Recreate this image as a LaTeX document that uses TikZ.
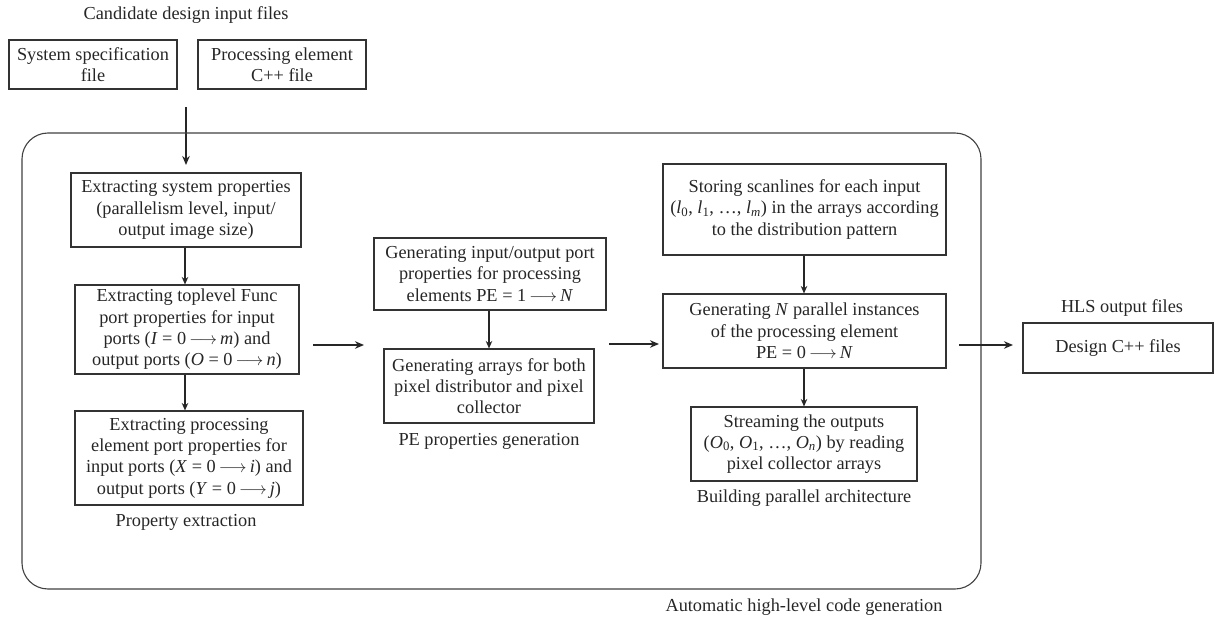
\documentclass[tikz,border=0pt]{standalone}
\usepackage{fontspec}
\setmainfont{Liberation Serif}
\usetikzlibrary{arrows.meta}
\newcommand{\ar}{\,$\longrightarrow$\,}
\begin{document}
\begin{tikzpicture}[x=1pt,y=-1pt,
  every node/.style={font=\fontsize{18.3}{21.3}\selectfont, text=black!85},
  box/.style={draw=black!80, line width=1.1pt, align=center, inner sep=0pt},
  lbl/.style={inner sep=0pt, align=center},
  thin/.style={draw=black!85, line width=1.1pt, -{Stealth[length=7.5pt,width=6.5pt]}},
  thick/.style={draw=black!85, line width=1.8pt, -{Stealth[length=9pt,width=7.5pt]}},
  frame/.style={draw=black!75, line width=1.1pt, rounded corners=26pt}]
\useasboundingbox (0,0) rectangle (1215,620);

\node[lbl] (cand) at (186,15) {Candidate design input files};
\node[box, minimum width=168pt, minimum height=49pt] (b1) at (93,64.5) {System specification\\file};
\node[box, minimum width=168pt, minimum height=49pt] (b2) at (282,64.5) {Processing element\\C++ file};
\coordinate (in1) at (186,107);
\coordinate (in2) at (186,165);
\draw[thick, line width=1.6pt] (in1) -- (in2);

\draw[frame] (22,133) rectangle (981,589);
\node[lbl] (auto) at (804,607) {Automatic high-level code generation};

% left column
\node[box, minimum width=230pt, minimum height=74pt] (A) at (186,210) {Extracting system properties\\(parallelism level, input/\\output image size)};
\node[box, minimum width=224pt, minimum height=89pt] (B) at (187,329.5) {Extracting toplevel Func\\port properties for input\\ports (\textit{I} = 0\ar \textit{m}) and\\output ports (\textit{O} = 0\ar \textit{n})};
\node[box, minimum width=228pt, minimum height=94pt] (C) at (189,458) {Extracting processing\\element port properties for\\input ports (\textit{X} = 0\ar \textit{i}) and\\output ports (\textit{Y} = 0\ar \textit{j})};
\node[lbl] (pe1) at (186,522) {Property extraction};
\draw[thin] (A.south -| 185,0) -- (B.north -| 185,0);
\draw[thin] (B.south -| 185,0) -- (C.north -| 185,0);

% middle column
\node[box, minimum width=232pt, minimum height=72pt] (D) at (490,274) {Generating input/output port\\properties for processing\\elements PE = 1\ar \textit{N}};
\node[box, minimum width=210pt, minimum height=74pt] (E) at (489,386) {Generating arrays for both\\pixel distributor and pixel\\collector};
\node[lbl] (pe2) at (489,441) {PE properties generation};
\draw[thin] (D.south -| 489,0) -- (E.north -| 489,0);

% right column
\node[box, minimum width=283pt, minimum height=91pt] (F) at (804.5,209.5) {Storing scanlines for each input\\(\textit{l}\textsubscript{0}, \textit{l}\textsubscript{1}, \dots, \textit{l}\textsubscript{\textit{m}}) in the arrays according\\to the distribution pattern};
\node[box, minimum width=283pt, minimum height=74pt] (G) at (804.5,331) {Generating \textit{N} parallel instances\\of the processing element\\PE = 0\ar \textit{N}};
\node[box, minimum width=226pt, minimum height=74pt] (H) at (804,444) {Streaming the outputs\\(\textit{O}\textsubscript{0}, \textit{O}\textsubscript{1}, \dots, \textit{O}\textsubscript{\textit{n}}) by reading\\pixel collector arrays};
\node[lbl] (pe3) at (804,498) {Building parallel architecture};
\draw[thin] (F.south -| 804,0) -- (G.north -| 804,0);
\draw[thin] (G.south -| 804,0) -- (H.north -| 804,0);

% output
\node[lbl] (hls) at (1122,308) {HLS output files};
\node[box, minimum width=190pt, minimum height=50pt] (out) at (1118,348) {Design C++ files};

% horizontal arrows
\coordinate (h1a) at (313,345); \coordinate (h1b) at (364,345);
\coordinate (h2a) at (609,344); \coordinate (h2b) at (659,344);
\coordinate (h3a) at (959,345); \coordinate (h3b) at (1013,345);
\draw[thick] (h1a) -- (h1b);
\draw[thick] (h2a) -- (h2b);
\draw[thick] (h3a) -- (h3b);
\end{tikzpicture}
\end{document}
